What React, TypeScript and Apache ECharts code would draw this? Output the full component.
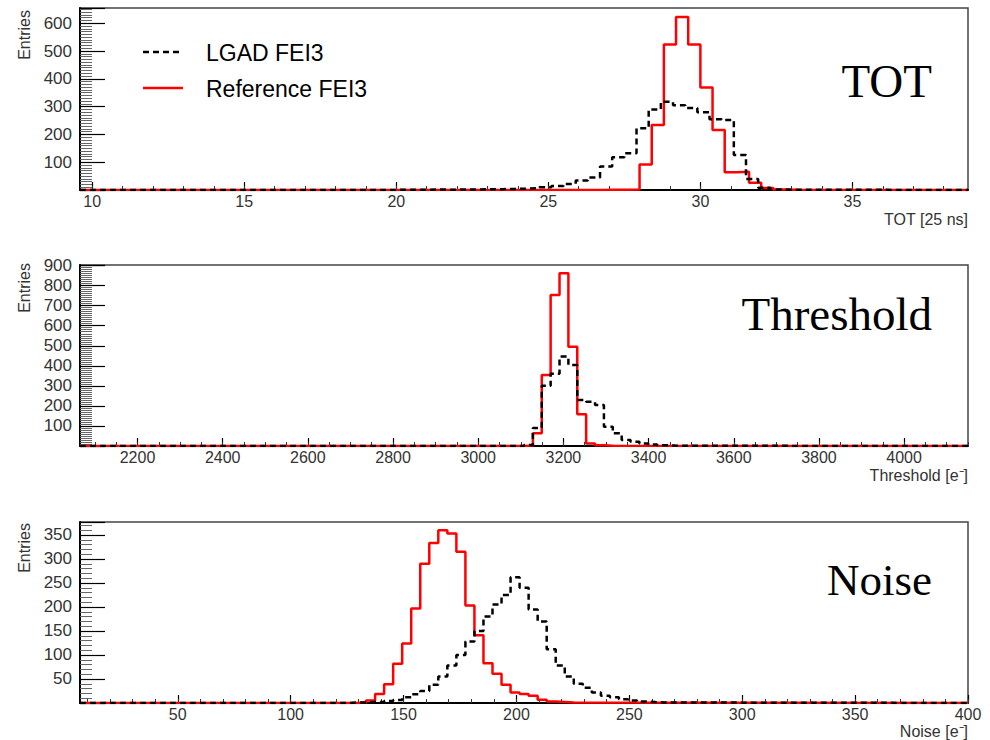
import React, { useEffect, useRef } from "react";
import * as echarts from "echarts";

// ---------- DATA ----------
const SERIES_NAMES = ["LGAD FEI3", "Reference FEI3"];
const PANEL_TITLES = ["TOT", "Threshold", "Noise"];
const X_AXIS_TITLES = ["TOT [25 ns]", "Threshold [e\u207B]", "Noise [e\u207B]"];
const Y_AXIS_TITLE = "Entries";

// TOT panel (bin width 0.4)
const TOT_BIN = 0.4;
const TOT_RED_START = 26.8;
const totReference = [1, 1, 2, 92, 234, 524, 623, 524, 369, 216, 64, 66, 26, 7, 2, 1];
const TOT_LGAD_START = 19.9;
const totLgad = [
  1, 1, 1, 2, 1, 2, 2, 3, 3, 4,
  5, 7, 10, 14, 22, 34, 45, 85, 118, 132,
  222, 290, 318, 305, 295, 280, 255, 252, 126, 40,
  8, 2, 1,
];

// Threshold panel (bin width 20.85)
const THR_BIN = 20.85;
const THR_RED_START = 3107.5;
const thrReference = [3, 63, 354, 753, 862, 495, 158, 13, 4, 1];
const THR_LGAD_START = 3107.5;
const thrLgad = [5, 90, 300, 360, 446, 404, 230, 221, 205, 96, 63, 30, 21, 13, 8, 4, 2, 1];

// Noise panel (bin width 4)
const NOISE_BIN = 4;
const NOISE_RED_START = 129.4;
const noiseReference = [
  1, 5, 19, 39, 82, 124, 197, 290, 333, 360, 353, 315, 203, 141, 83, 61, 38, 22, 19, 15, 7, 3, 2, 1,
];
const NOISE_LGAD_START = 125.4;
const noiseLgad = [
  1, 1, 2, 2, 4, 6, 12, 18, 25, 38, 55, 78, 100, 128, 150, 180, 205, 225, 262, 240,
  195, 170, 112, 78, 55, 40, 32, 22, 15, 12, 8, 5, 3, 2, 1, 1,
];

// Axis ranges / tick labels
const X_RANGES = [
  [9.6, 38.8],
  [2065, 4150],
  [6.7, 400],
];
const totTicks = [10, 15, 20, 25, 30, 35];
const thrTicks = [2200, 2400, 2600, 2800, 3000, 3200, 3400, 3600, 3800, 4000];
const noiseTicks = [50, 100, 150, 200, 250, 300, 350, 400];
const X_MAJOR_TICKS = [totTicks, thrTicks, noiseTicks];
const X_MINOR_STEP = [1, 50, 10];
const Y_MAX = [655, 903, 377];
const Y_INTERVALS = [100, 100, 50];
const Y_MINOR = [10, 10, 5];

// ---------- helpers ----------
function histPoints(start: number, width: number, values: number[], xmin: number, xmax: number) {
  const pts: number[][] = [[xmin, 0]];
  values.forEach((v, i) => pts.push([start + i * width, v]));
  pts.push([start + values.length * width, 0]);
  pts.push([xmax, 0]);
  return pts;
}

function minorTicks(min: number, max: number, step: number) {
  const out: number[] = [];
  const first = Math.ceil(min / step - 1e-9) * step;
  for (let v = first; v <= max + 1e-9; v += step) out.push(Math.round(v * 1000) / 1000);
  return out;
}

const isMultiple = (v: number, step: number) => Math.abs(v / step - Math.round(v / step)) < 1e-6;

const FONT = "Liberation Sans, Arial, Helvetica, sans-serif";
const SERIF = "Liberation Serif, Times New Roman, serif";

export default function App() {
  const ref = useRef<HTMLDivElement>(null);

  useEffect(() => {
    if (!ref.current) return;
    const chart = echarts.init(ref.current, undefined, { renderer: "svg" });

    const grids = [
      { left: 80, top: 8, width: 888, height: 182 },
      { left: 80, top: 265, width: 888, height: 181 },
      { left: 80, top: 522, width: 888, height: 181 },
    ].map((g) => ({ ...g, show: true, borderColor: "#444", borderWidth: 1.5, backgroundColor: "transparent" }));

    const majorX = [0, 1, 2].map((i) => ({
      type: "value",
      gridIndex: i,
      position: "bottom",
      min: X_RANGES[i][0],
      max: X_RANGES[i][1],
      axisLine: { show: true, onZero: false, lineStyle: { color: "#000", width: 2 } },
      axisTick: {
        show: true,
        inside: true,
        length: 8,
        customValues: X_MAJOR_TICKS[i],
        lineStyle: { color: "#000", width: 1.2 },
      },
      minorTick: { show: false },
      splitLine: { show: false },
      axisLabel: {
        show: true,
        margin: 3,
        fontSize: 16,
        lineHeight: 16,
        fontFamily: FONT,
        color: "#333",
        customValues: X_MAJOR_TICKS[i],
        formatter: (v: number) => String(Math.round(v)),
      },
    }));

    const minorX = [0, 1, 2].map((i) => ({
      type: "value",
      gridIndex: i,
      position: "bottom",
      offset: 0,
      min: X_RANGES[i][0],
      max: X_RANGES[i][1],
      axisLine: { show: false, onZero: false },
      axisTick: {
        show: true,
        inside: true,
        length: 4,
        customValues: minorTicks(X_RANGES[i][0], X_RANGES[i][1], X_MINOR_STEP[i]),
        lineStyle: { color: "#333", width: 1 },
      },
      minorTick: { show: false },
      splitLine: { show: false },
      axisLabel: { show: false },
    }));

    const yAxes = [0, 1, 2].map((i) => ({
      type: "value",
      gridIndex: i,
      min: 0,
      max: Y_MAX[i],
      interval: Y_INTERVALS[i],
      axisLine: { show: true, lineStyle: { color: "#000", width: 2 } },
      axisTick: { show: true, inside: true, length: 25, lineStyle: { color: "#000", width: 1.2 } },
      minorTick: { show: true, splitNumber: Y_MINOR[i], length: 12, lineStyle: { color: "#666", width: 1 } },
      splitLine: { show: false },
      axisLabel: {
        show: true,
        margin: 8,
        fontSize: 17,
        fontFamily: FONT,
        color: "#333",
        formatter: (v: number) => (v > 0 && isMultiple(v, Y_INTERVALS[i]) ? String(Math.round(v)) : ""),
      },
    }));

    const panels = [
      {
        red: histPoints(TOT_RED_START, TOT_BIN, totReference, X_RANGES[0][0], X_RANGES[0][1]),
        black: histPoints(TOT_LGAD_START, TOT_BIN, totLgad, X_RANGES[0][0], X_RANGES[0][1]),
      },
      {
        red: histPoints(THR_RED_START, THR_BIN, thrReference, X_RANGES[1][0], X_RANGES[1][1]),
        black: histPoints(THR_LGAD_START, THR_BIN, thrLgad, X_RANGES[1][0], X_RANGES[1][1]),
      },
      {
        red: histPoints(NOISE_RED_START, NOISE_BIN, noiseReference, X_RANGES[2][0], X_RANGES[2][1]),
        black: histPoints(NOISE_LGAD_START, NOISE_BIN, noiseLgad, X_RANGES[2][0], X_RANGES[2][1]),
      },
    ];

    const series: any[] = [];
    panels.forEach((p, i) => {
      series.push({
        name: SERIES_NAMES[1],
        type: "line",
        step: "end",
        symbol: "none",
        xAxisIndex: i,
        yAxisIndex: i,
        data: p.red,
        clip: true,
        silent: true,
        lineStyle: { color: "#ff0000", width: 2.5 },
        itemStyle: { color: "#ff0000" },
        z: 2,
      });
      series.push({
        name: SERIES_NAMES[0],
        type: "line",
        step: "end",
        symbol: "none",
        xAxisIndex: i,
        yAxisIndex: i,
        data: p.black,
        clip: true,
        silent: true,
        lineStyle: { color: "#000", width: 2.5, type: [6, 4] },
        itemStyle: { color: "#000" },
        z: 3,
      });
    });

    const titleY = [81, 314, 580];
    const titleSize = [47, 47, 45];
    const xTitleY = [219, 475, 731];
    const entriesTop = [10, 263, 523];

    const graphic: any[] = [];
    [0, 1, 2].forEach((i) => {
      graphic.push({
        type: "text",
        x: 932,
        y: titleY[i],
        style: {
          text: PANEL_TITLES[i],
          font: `${titleSize[i]}px ${SERIF}`,
          fill: "#000",
          align: "right",
          verticalAlign: "middle",
        },
      });
      graphic.push({
        type: "text",
        x: 968,
        y: xTitleY[i],
        style: {
          text: X_AXIS_TITLES[i],
          font: `16px ${FONT}`,
          fill: "#333",
          align: "right",
          verticalAlign: "middle",
        },
      });
      graphic.push({
        type: "text",
        x: 24,
        y: entriesTop[i],
        rotation: Math.PI / 2,
        style: {
          text: Y_AXIS_TITLE,
          font: `16px ${FONT}`,
          fill: "#333",
          align: "right",
          verticalAlign: "middle",
        },
      });
    });

    // legend (drawn as graphic for exact ROOT-like placement)
    const legendRows = [
      { y: 52, name: SERIES_NAMES[0], color: "#000", dash: [6, 4] },
      { y: 88, name: SERIES_NAMES[1], color: "#ff0000", dash: null },
    ];
    legendRows.forEach((r) => {
      graphic.push({
        type: "line",
        shape: { x1: 143, y1: r.y, x2: 183, y2: r.y },
        style: { stroke: r.color, lineWidth: 2.5, lineDash: r.dash || undefined },
      });
      graphic.push({
        type: "text",
        x: 206,
        y: r.y + 1,
        style: {
          text: r.name,
          font: `23px ${FONT}`,
          fill: "#000",
          align: "left",
          verticalAlign: "middle",
        },
      });
    });

    chart.setOption({
      animation: false,
      backgroundColor: "#fff",
      grid: grids,
      xAxis: [...majorX, ...minorX],
      yAxis: yAxes,
      series,
      graphic,
    });

    return () => chart.dispose();
  }, []);

  return (
    <div
      ref={ref}
      style={{ position: "absolute", left: 0, top: 0, width: 990, height: 740, background: "#fff" }}
    />
  );
}
